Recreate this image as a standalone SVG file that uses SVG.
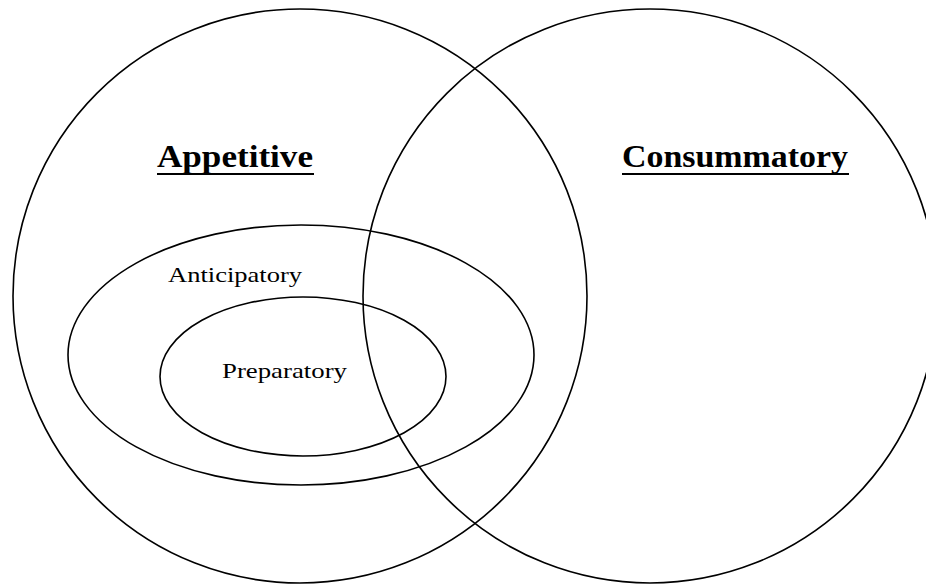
<svg xmlns="http://www.w3.org/2000/svg" width="926" height="587" viewBox="0 0 926 587">
<style>
.shape{fill:none;stroke:#000;stroke-width:1.6}
.title{font-family:"Liberation Serif","DejaVu Serif",serif;font-weight:bold;font-size:31px;fill:#000}
.label{font-family:"Liberation Serif","DejaVu Serif",serif;font-size:22px;fill:#000}
.ul{stroke:#000;stroke-width:2}
</style>
<rect width="926" height="587" fill="#fff"/>
<g id="appetitive">
<circle class="shape" cx="300" cy="296" r="287"/>
<text class="title" x="157" y="167" textLength="156" lengthAdjust="spacingAndGlyphs">Appetitive</text>
<line class="ul" x1="157" y1="174" x2="314" y2="174"/>
</g>
<g id="consummatory">
<circle class="shape" cx="650" cy="296" r="287"/>
<text class="title" x="622" y="167" textLength="226" lengthAdjust="spacingAndGlyphs">Consummatory</text>
<line class="ul" x1="622" y1="174" x2="849" y2="174"/>
</g>
<g id="anticipatory">
<ellipse class="shape" cx="301" cy="355" rx="233" ry="130"/>
<text class="label" x="168" y="282" textLength="134" lengthAdjust="spacingAndGlyphs">Anticipatory</text>
</g>
<g id="preparatory">
<ellipse class="shape" cx="303" cy="376.5" rx="143" ry="79.5"/>
<text class="label" x="222" y="378" textLength="125" lengthAdjust="spacingAndGlyphs">Preparatory</text>
</g>
<g id="connectors"/>
</svg>
